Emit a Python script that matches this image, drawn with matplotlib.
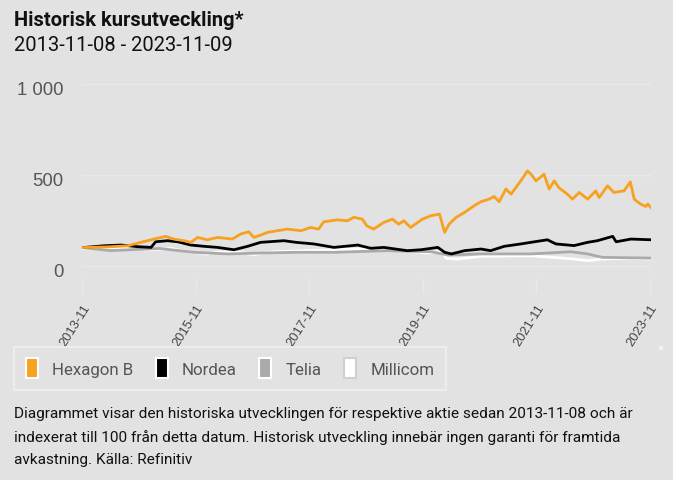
import numpy as np
import matplotlib
matplotlib.use("Agg")
import matplotlib.pyplot as plt
import matplotlib.transforms as mtransforms
from matplotlib.patches import Patch, Rectangle

# index values (100 = 2013-11-08); x in decimal years
hexagon_x = [2013.85, 2014.3, 2014.64, 2014.87, 2015.1, 2015.31, 2015.45, 2015.63, 2015.75, 2015.87,
             2016.04, 2016.22, 2016.48, 2016.63, 2016.77, 2016.86, 2016.98, 2017.1, 2017.45, 2017.69,
             2017.86, 2018.0, 2018.09, 2018.33, 2018.51, 2018.62, 2018.77, 2018.85, 2018.97, 2019.15,
             2019.3, 2019.41, 2019.5, 2019.62, 2019.83, 2019.98, 2020.13, 2020.22, 2020.3, 2020.42,
             2020.57, 2020.74, 2020.86, 2021.0, 2021.09, 2021.18, 2021.3, 2021.39, 2021.56, 2021.68,
             2021.74, 2021.83, 2021.97, 2022.06, 2022.15, 2022.23, 2022.38, 2022.47, 2022.59, 2022.74,
             2022.88, 2022.94, 2023.09, 2023.2, 2023.38, 2023.49, 2023.56, 2023.67, 2023.76, 2023.8,
             2023.86]
hexagon = [100, 104, 110, 129, 147, 162, 147, 138, 129, 156,
           143, 156, 147, 175, 187, 156, 169, 184, 202, 193,
           211, 202, 242, 253, 248, 267, 257, 220, 202, 239,
           257, 229, 248, 211, 257, 276, 285, 184, 230, 266,
           294, 331, 353, 367, 382, 353, 423, 395, 468, 523,
           505, 468, 505, 423, 468, 431, 395, 367, 404, 367,
           413, 376, 441, 404, 413, 462, 367, 340, 327, 340,
           318]

nordea_x = [2013.85, 2014.22, 2014.52, 2014.81, 2015.05, 2015.13, 2015.34, 2015.52, 2015.75, 2015.98,
            2016.22, 2016.51, 2016.75, 2016.98, 2017.39, 2017.6, 2017.92, 2018.27, 2018.69, 2018.92,
            2019.15, 2019.56, 2019.8, 2020.1, 2020.22, 2020.34, 2020.57, 2020.86, 2021.03, 2021.27,
            2021.56, 2021.74, 2022.03, 2022.18, 2022.5, 2022.74, 2022.91, 2023.18, 2023.24, 2023.5,
            2023.86]
nordea = [100, 110, 114, 105, 101, 132, 138, 132, 114, 107,
          101, 88, 107, 129, 138, 129, 120, 101, 114, 96,
          101, 83, 88, 101, 74, 65, 83, 92, 83, 107,
          120, 129, 143, 120, 111, 129, 138, 162, 132, 147,
          143]

telia_x = [2013.85, 2014.34, 2014.8, 2015.2, 2015.8, 2016.4, 2017.0, 2017.6, 2018.3, 2019.2,
           2019.98, 2020.28, 2020.86, 2021.74, 2022.44, 2022.74, 2023.0, 2023.86]
telia = [100, 83, 90, 95, 74, 65, 70, 74, 74, 83,
         77, 59, 65, 65, 77, 65, 46, 42]

millicom_x = [2013.85, 2014.6, 2015.05, 2015.4, 2015.7, 2016.04, 2016.2, 2016.6, 2016.86, 2017.2,
              2018.3, 2019.1, 2019.56, 2019.9, 2020.1, 2020.19, 2020.25, 2020.46, 2020.86, 2021.74,
              2022.5, 2022.74, 2023.0, 2023.5, 2023.86]
millicom = [95, 101, 88, 95, 77, 64, 74, 74, 61, 77,
            88, 95, 83, 70, 77, 70, 41, 37, 52, 55,
            37, 28, 37, 41, 37]

series_names = ["Hexagon B", "Nordea", "Telia", "Millicom"]
series_colors = ["#f7a11e", "#000000", "#aaaaaa", "#ffffff"]

tick_labels = ["2013-11", "2015-11", "2017-11", "2019-11", "2021-11", "2023-11"]
tick_pos = [int(t[:4]) + 10 / 12 for t in tick_labels]
ytick_vals = [0, 500, 1000]
ytick_labels = ["0", "500", "1 000"]

bg = "#e2e2e2"
fig = plt.figure(figsize=(6.73, 4.81), dpi=100, facecolor=bg)
ax = fig.add_axes([0.1218, 0.418, 0.846, 0.436], facecolor=bg)

all_series = [(hexagon_x, hexagon), (nordea_x, nordea), (telia_x, telia), (millicom_x, millicom)]
for i in [2, 3, 1, 0]:
    x, v = all_series[i]
    ax.plot(x, v, color=series_colors[i], lw=2.0, zorder=3 + (3 - i))

ax.set_ylim(-73, 1084)
ax.set_xlim(2013.833, 2023.86)
ax.set_yticks(ytick_vals)
ax.set_yticklabels([])
# y labels drawn by hand: they sit a few pixels below their gridlines in the original
ylab_tf = ax.get_yaxis_transform() + mtransforms.ScaledTranslation(0, -0.035, fig.dpi_scale_trans)
for v, lab in zip(ytick_vals, ytick_labels):
    ax.text(-0.033, v, lab, transform=ylab_tf, ha="right", va="center_baseline",
            fontsize=13.3, color="#555555", family="Liberation Sans")
ax.set_xticks(tick_pos)
ax.set_xticklabels(tick_labels, rotation=58, ha="right", rotation_mode="anchor",
                   fontsize=9.3, color="#444444", family="Liberation Sans")
ax.tick_params(axis="y", length=0)
ax.tick_params(axis="x", length=10, color="#e9e9e9", width=1, pad=6)
ax.grid(axis="y", color="#e9e9e9", lw=1)
for s in ax.spines.values():
    s.set_visible(False)

fig.text(0.021, 0.946, "Historisk kursutveckling*", fontsize=14.5, fontweight="bold",
         family="Roboto", color="#111111", va="baseline")
fig.text(0.021, 0.894, "2013-11-08 - 2023-11-09", fontsize=14.5, family="Roboto",
         color="#111111", va="baseline")

handles = [Patch(facecolor=c, edgecolor=("#ffffff" if c != "#ffffff" else "#cfcfcf"), lw=1.5)
           for c in series_colors]
leg = fig.legend(handles, series_names, loc="upper left", bbox_to_anchor=(0.021, 0.277),
                 borderaxespad=0, ncol=4, frameon=True, handlelength=0.7, handleheight=1.45,
                 handletextpad=0.85, columnspacing=1.33, borderpad=0.68,
                 prop={"family": "Roboto", "size": 12.2})
leg.get_frame().set_facecolor(bg)
leg.get_frame().set_edgecolor("#f0f0f0")
leg.get_frame().set_linewidth(1.5)
leg.get_frame().set_boxstyle("square", pad=0)
for t in leg.get_texts():
    t.set_color("#555555")

# small light square at the right edge of the legend row
fig.patches.append(Rectangle((659 / 673, 1 - 351 / 481), 4 / 673, 4 / 481,
                             transform=fig.transFigure, facecolor="#f2f2f2",
                             edgecolor="none"))

footer = ("Diagrammet visar den historiska utvecklingen för respektive aktie sedan 2013-11-08 och är\n"
          "indexerat till 100 från detta datum. Historisk utveckling innebär ingen garanti för framtida\n"
          "avkastning. Källa: Refinitiv")
fig.text(0.021, 0.153, footer, fontsize=11.1, family="Roboto", color="#111111",
         va="top", linespacing=1.72)

fig.savefig("out.png", dpi=100, facecolor=bg)
